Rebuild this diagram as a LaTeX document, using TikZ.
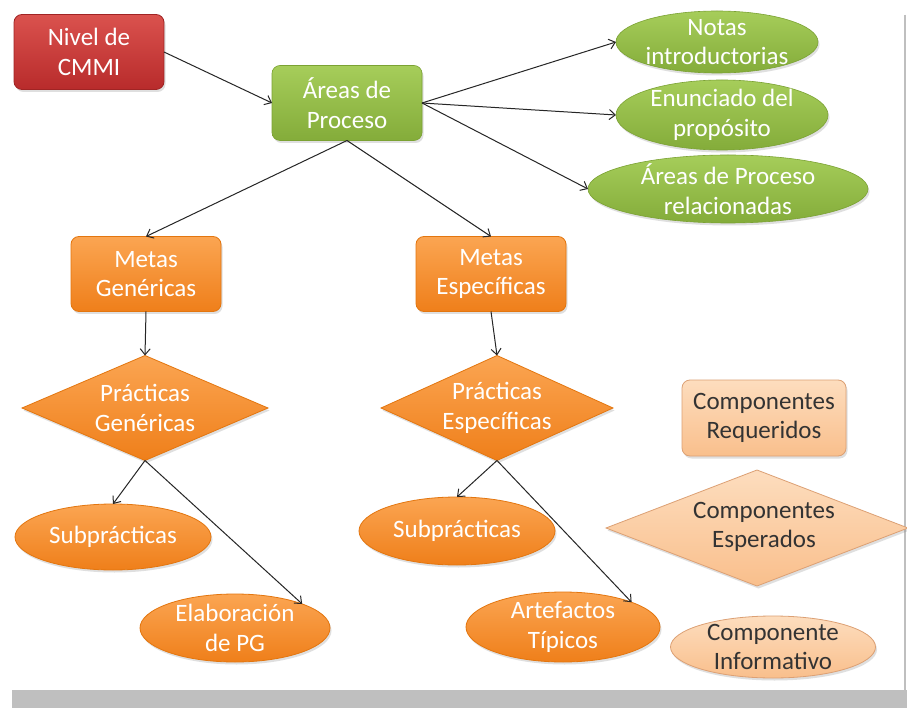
\documentclass[tikz,border=0pt]{standalone}
\usepackage{fontspec}
\setmainfont{Carlito}
\usetikzlibrary{shapes.geometric,arrows.meta,shadows}
\definecolor{redT}{HTML}{DA524E}
\definecolor{redB}{HTML}{B82B2B}
\definecolor{redD}{HTML}{A02424}
\definecolor{grnT}{HTML}{A6CD5A}
\definecolor{grnB}{HTML}{84AC3A}
\definecolor{grnD}{HTML}{7BA233}
\definecolor{orT}{HTML}{FBA552}
\definecolor{orB}{HTML}{EF7F1A}
\definecolor{orD}{HTML}{E3760F}
\definecolor{ltT}{HTML}{FDDDBE}
\definecolor{ltB}{HTML}{F9BF8C}
\definecolor{ltD}{HTML}{DCA074}
\definecolor{txtD}{HTML}{333333}
\definecolor{frameG}{HTML}{BFBFBF}
\begin{document}
\begin{tikzpicture}[x=1pt,y=-1pt,
  base/.style={inner sep=0pt, outer sep=0pt,
    drop shadow={shadow xshift=1.5pt,shadow yshift=-2.5pt,opacity=0.25}},
  boxshape/.style={base, rectangle, rounded corners=8pt, minimum width=150pt, minimum height=75pt},
  ellshape/.style={base, ellipse},
  diashape/.style={base, diamond},
  redfill/.style={top color=redT, bottom color=redB, draw=redD, line width=0.8pt},
  grnfill/.style={top color=grnT, bottom color=grnB, draw=grnD, line width=0.6pt},
  orfill/.style={top color=orT, bottom color=orB, draw=orD, line width=0.8pt},
  ltfill/.style={top color=ltT, bottom color=ltB, draw=ltD, line width=0.8pt},
  wtext/.style={text=white, align=center, font=\fontsize{25}{29.5}\selectfont},
  dtext/.style={text=txtD, align=center, font=\fontsize{25}{29.5}\selectfont},
  conn/.style={draw=black!85, line width=1pt, -{Straight Barb[length=6pt,width=10pt]}}
]
\fill[white] (0,0) rectangle (907,708);
\useasboundingbox (0,0) rectangle (907,708);
\draw[frameG, line width=2pt] (905,15) -- (905,690);
\fill[frameG] (12,690) rectangle (907,708);

% top level
\node[boxshape, redfill, wtext] (nivel) at (89,52) {Nivel de\\CMMI};
\node[boxshape, grnfill, wtext] (areas) at (347,103) {Áreas de\\Proceso};

% green ellipses
\node[ellshape, grnfill, minimum width=202pt, minimum height=62pt] (notas) at (717,42) {};
\node[wtext] (notas-t) at (notas) {Notas\\introductorias};
\node[ellshape, grnfill, minimum width=212pt, minimum height=70pt] (enun) at (722,115) {};
\node[wtext] (enun-t) at (enun) {Enunciado del\\propósito};
\node[ellshape, grnfill, minimum width=280pt, minimum height=68pt] (rel) at (728,189) {};
\node[wtext] (rel-t) at (rel) {Áreas de Proceso\\relacionadas};

% metas
\node[boxshape, orfill, wtext] (mg) at (146,274) {Metas\\Genéricas};
\node[boxshape, orfill, wtext] (ms) at (491,274) {Metas\\Específicas};

% practicas
\node[diashape, orfill, minimum width=246pt, minimum height=105pt] (pg) at (145,408) {};
\node[wtext] (pg-t) at (pg) {Prácticas\\Genéricas};
\node[diashape, orfill, minimum width=232pt, minimum height=105pt] (pe) at (497,408) {};
\node[wtext] (pe-t) at (pe) {Prácticas\\Específicas};

% leaves
\node[ellshape, orfill, minimum width=196pt, minimum height=66pt] (subg) at (113,537) {};
\node[wtext] (subg-t) at (subg) {Subprácticas};
\node[ellshape, orfill, minimum width=190pt, minimum height=68pt] (elab) at (235,628) {};
\node[wtext] (elab-t) at (elab) {Elaboración\\de PG};
\node[ellshape, orfill, minimum width=196pt, minimum height=68pt] (subs) at (457,531) {};
\node[wtext] (subs-t) at (subs) {Subprácticas};
\node[ellshape, orfill, minimum width=194pt, minimum height=70pt] (arte) at (563,627) {};
\node[wtext] (arte-t) at (arte) {Artefactos\\Típicos};

% legend
\node[boxshape, ltfill, dtext, minimum width=164pt, minimum height=76pt] (req) at (764,418) {Componentes\\Requeridos};
\node[diashape, ltfill, minimum width=302pt, minimum height=116pt] (esp) at (757,528) {};
\node[dtext] (esp-t) at (764,527) {Componentes\\Esperados};
\node[ellshape, ltfill, minimum width=205pt, minimum height=62pt] (inf) at (773,647) {};
\node[dtext] (inf-t) at (inf) {Componente\\Informativo};

% connectors
\draw[conn] (nivel.east) -- (areas.west);
\draw[conn] (areas.east) -- (notas.west);
\draw[conn] (areas.east) -- (enun.west);
\draw[conn] (areas.east) -- (rel.west);
\draw[conn] (areas.south) -- (mg.north);
\draw[conn] (areas.south) -- (ms.north);
\draw[conn] (mg.south) -- (pg.north);
\draw[conn] (ms.south) -- (pe.north);
\draw[conn] (pg.south) -- (subg.north);
\draw[conn] (pg.south) -- (elab.north east);
\draw[conn] (pe.south) -- (subs.north);
\draw[conn] (pe.south) -- (arte.north east);
\end{tikzpicture}
\end{document}
